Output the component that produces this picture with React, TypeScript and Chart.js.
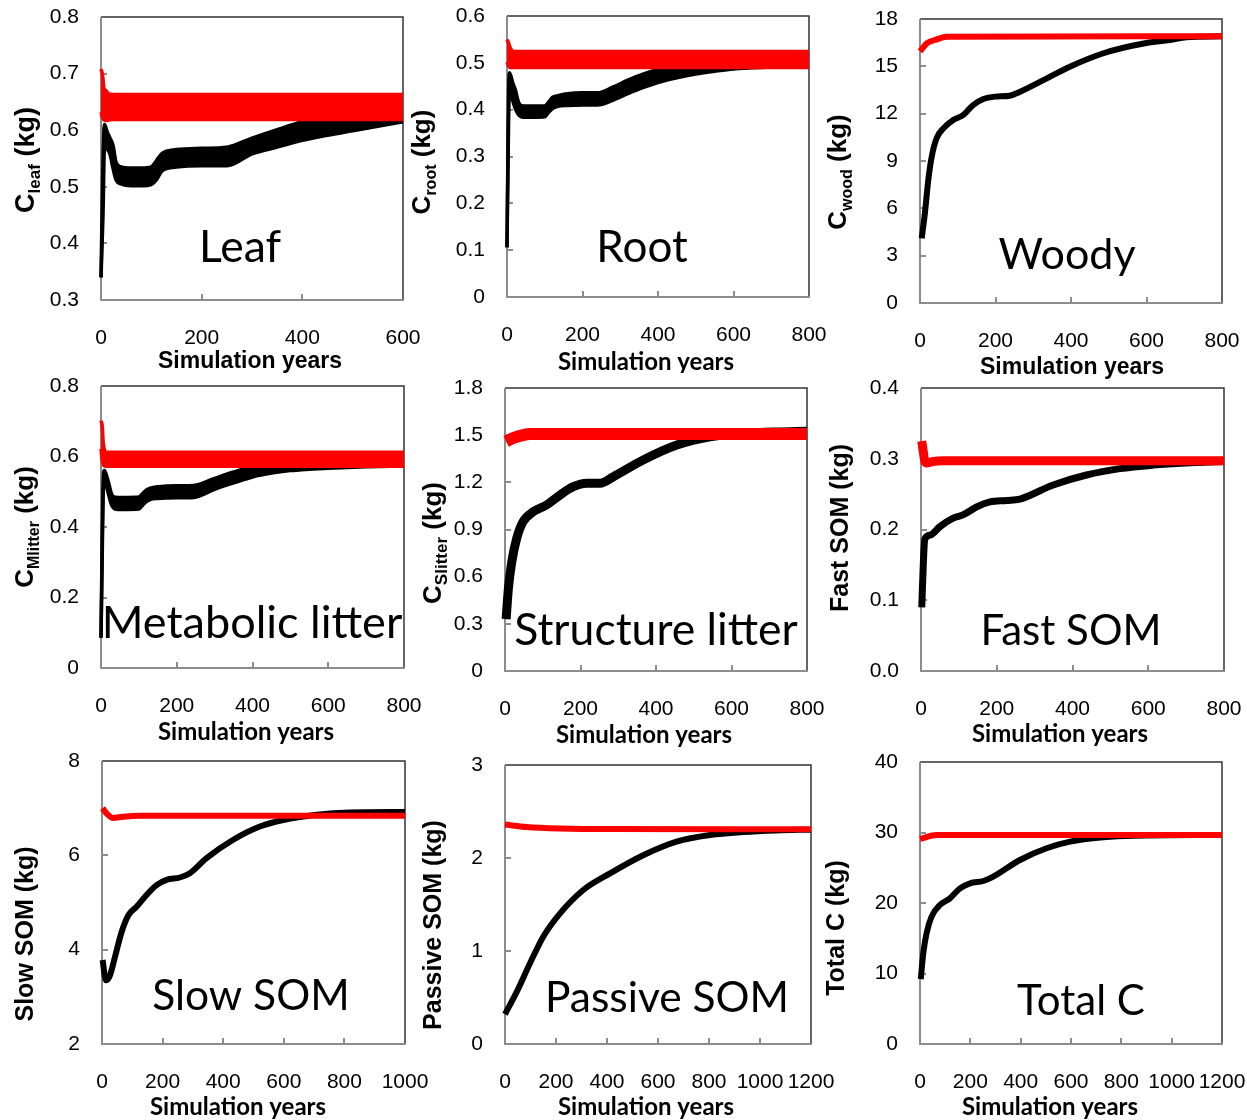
import React, { useEffect, useRef } from "react";
import { Chart, registerables } from "chart.js";
Chart.register(...registerables);

// ---------------- data ----------------
// Leaf
const leafBlackYears = [0, 4, 7, 12, 18, 24, 30, 40, 60, 80, 100, 110, 120, 130, 150, 200, 250, 300, 350, 400, 450, 500, 550, 600];
const leafBlackHigh = [0.34, 0.55, 0.61, 0.598, 0.586, 0.573, 0.543, 0.535, 0.533, 0.533, 0.535, 0.546, 0.558, 0.563, 0.566, 0.568, 0.57, 0.586, 0.601, 0.615, 0.625, 0.631, 0.636, 0.64];
const leafBlackLow = [0.34, 0.45, 0.572, 0.567, 0.557, 0.532, 0.512, 0.505, 0.502, 0.502, 0.504, 0.512, 0.527, 0.532, 0.535, 0.537, 0.537, 0.558, 0.57, 0.582, 0.591, 0.599, 0.607, 0.615];
const leafRedYears = [0, 3, 6, 10, 15, 25, 600];
const leafRedHigh = [0.708, 0.698, 0.674, 0.67, 0.664, 0.663, 0.663];
const leafRedLow = [0.632, 0.622, 0.618, 0.617, 0.618, 0.619, 0.619];

// Root
const rootBlackYears = [0, 3, 6, 10, 16, 22, 28, 35, 45, 70, 100, 110, 120, 135, 160, 200, 240, 280, 320, 360, 400, 450, 500, 550, 600, 700, 800];
const rootBlackHigh = [0.106, 0.36, 0.479, 0.473, 0.455, 0.443, 0.423, 0.41, 0.408, 0.408, 0.408, 0.416, 0.426, 0.43, 0.434, 0.436, 0.436, 0.448, 0.463, 0.476, 0.486, 0.495, 0.502, 0.508, 0.513, 0.518, 0.521];
const rootBlackLow = [0.106, 0.3, 0.44, 0.432, 0.417, 0.402, 0.392, 0.386, 0.384, 0.384, 0.385, 0.394, 0.402, 0.407, 0.409, 0.41, 0.41, 0.42, 0.434, 0.447, 0.458, 0.468, 0.476, 0.482, 0.487, 0.491, 0.494];
const rootRedYears = [0, 4, 8, 14, 20, 800];
const rootRedHigh = [0.55, 0.543, 0.533, 0.526, 0.524, 0.524];
const rootRedLow = [0.502, 0.494, 0.49, 0.49, 0.49, 0.49];

// Woody
const woodBlackYears = [4.5, 13, 22, 31, 44, 62, 88, 115, 141, 168, 199, 238, 265, 336, 397, 486, 596, 662, 706, 800];
const woodBlack = [4.1, 5.7, 7.8, 9.27, 10.44, 11.07, 11.6, 11.92, 12.55, 12.93, 13.08, 13.14, 13.39, 14.24, 14.98, 15.83, 16.46, 16.67, 16.85, 16.9];
const woodRedYears = [0, 18, 40, 71, 800];
const woodRed = [15.95, 16.46, 16.67, 16.88, 16.9];

// Metabolic litter
const metBlackYears = [0, 3, 6, 9, 14, 20, 28, 35, 45, 70, 100, 110, 120, 130, 150, 200, 245, 300, 350, 400, 450, 500, 550, 600, 700, 800];
const metBlackHigh = [0.086, 0.35, 0.538, 0.56, 0.548, 0.526, 0.493, 0.485, 0.484, 0.484, 0.485, 0.495, 0.505, 0.51, 0.514, 0.517, 0.518, 0.538, 0.556, 0.572, 0.583, 0.591, 0.597, 0.6, 0.603, 0.605];
const metBlackLow = [0.086, 0.3, 0.5, 0.527, 0.517, 0.492, 0.462, 0.452, 0.45, 0.45, 0.451, 0.462, 0.472, 0.478, 0.481, 0.483, 0.484, 0.507, 0.525, 0.542, 0.553, 0.56, 0.564, 0.567, 0.571, 0.573];
const metRedYears = [0, 3, 6, 10, 15, 800];
const metRedHigh = [0.702, 0.688, 0.638, 0.616, 0.612, 0.612];
const metRedLow = [0.622, 0.592, 0.577, 0.572, 0.572, 0.572];

// Structure litter
const strBlackYears = [3, 9, 18, 31, 48, 75, 110, 146, 181, 216, 252, 287, 366, 455, 543, 631, 720, 800];
const strBlack = [0.33, 0.526, 0.695, 0.844, 0.95, 1.013, 1.056, 1.12, 1.172, 1.194, 1.194, 1.236, 1.342, 1.437, 1.49, 1.51, 1.52, 1.525];
const strRedYears = [3, 22, 48, 66, 100, 800];
const strRed = [1.46, 1.482, 1.5, 1.507, 1.508, 1.508];

// Fast SOM
const fastBlackYears = [2, 6, 10, 24, 50, 85, 112, 147, 182, 226, 261, 349, 437, 525, 613, 700, 800];
const fastBlack = [0.09, 0.15, 0.186, 0.192, 0.204, 0.216, 0.221, 0.232, 0.239, 0.241, 0.243, 0.263, 0.277, 0.286, 0.291, 0.294, 0.296];
const fastRedYears = [2, 6, 10, 16, 30, 60, 800];
const fastRed = [0.325, 0.31, 0.297, 0.294, 0.296, 0.297, 0.297];

// Slow SOM
const slowBlackYears = [2, 13, 26, 43, 65, 87, 114, 147, 180, 213, 257, 290, 345, 433, 521, 598, 708, 818, 1000];
const slowBlack = [3.78, 3.35, 3.45, 3.85, 4.38, 4.73, 4.91, 5.16, 5.37, 5.48, 5.53, 5.62, 5.94, 6.33, 6.61, 6.75, 6.86, 6.91, 6.92];
const slowRedYears = [2, 15, 37, 70, 125, 1000];
const slowRed = [7.0, 6.89, 6.79, 6.82, 6.84, 6.84];

// Passive SOM
const passBlackYears = [0, 46, 98, 150, 216, 307, 412, 542, 673, 804, 935, 1065, 1200];
const passBlack = [0.32, 0.56, 0.868, 1.154, 1.405, 1.656, 1.835, 2.03, 2.176, 2.247, 2.28, 2.297, 2.305];
const passRedYears = [0, 85, 216, 412, 1200];
const passRed = [2.36, 2.333, 2.317, 2.311, 2.31];

// Total C
const totBlackYears = [3, 13, 26, 46, 79, 119, 159, 199, 252, 291, 397, 503, 596, 728, 850, 1200];
const totBlack = [9.2, 12.86, 15.7, 18.06, 19.72, 20.66, 22.08, 22.79, 23.12, 23.73, 26.1, 27.76, 28.7, 29.32, 29.55, 29.65];
const totRedYears = [0, 66, 1200];
const totRed = [29.1, 29.65, 29.65];

// tick labels
const xTicks600 = ["0", "200", "400", "600"];
const xTicks800 = ["0", "200", "400", "600", "800"];
const xTicks1000 = ["0", "200", "400", "600", "800", "1000"];
const xTicks1200 = ["0", "200", "400", "600", "800", "1000", "1200"];
const leafYTicks = ["0.3", "0.4", "0.5", "0.6", "0.7", "0.8"];
const rootYTicks = ["0", "0.1", "0.2", "0.3", "0.4", "0.5", "0.6"];
const woodYTicks = ["0", "3", "6", "9", "12", "15", "18"];
const metYTicks = ["0", "0.2", "0.4", "0.6", "0.8"];
const strYTicks = ["0", "0.3", "0.6", "0.9", "1.2", "1.5", "1.8"];
const fastYTicks = ["0.0", "0.1", "0.2", "0.3", "0.4"];
const slowYTicks = ["2", "4", "6", "8"];
const passYTicks = ["0", "1", "2", "3"];
const totYTicks = ["0", "10", "20", "30", "40"];

// ---------------- styling / layout ----------------
const RED = "#ff0000";
const BLACK = "#000000";
const SANS = "'Liberation Sans', Arial, sans-serif";
const CAL = "Lato, 'Open Sans', sans-serif";
const AXIS_W = 100;
const AXIS_H = 76;
const PAD_T = 12;
const PAD_R = 24;
const BAND_EDGE = 3.5;

type Band = { kind: "band"; color: string; x: number[]; hi: number[]; lo: number[] };
type Line = { kind: "line"; color: string; x: number[]; y: number[]; width: number };
type Panel = {
  box: [number, number, number, number];
  xTicks: string[];
  yTicks: string[];
  series: (Band | Line)[]; // first = on top
  yTitle: { main: string; sub: string; rest: string; size: number; subSize: number; x: number; y: number };
  xTitle: { family: string; size: number; x: number; y: number };
  label: { text: string; x: number; y: number; size: number };
};

const band = (color: string, x: number[], hi: number[], lo: number[]): Band => ({ kind: "band", color, x, hi, lo });
const line = (color: string, x: number[], y: number[], width: number): Line => ({ kind: "line", color, x, y, width });

const panels: Panel[] = [
  {
    box: [101, 17, 403, 300], xTicks: xTicks600, yTicks: leafYTicks,
    series: [band(RED, leafRedYears, leafRedHigh, leafRedLow), band(BLACK, leafBlackYears, leafBlackHigh, leafBlackLow)],
    yTitle: { main: "C", sub: "leaf", rest: " (kg)", size: 27, subSize: 17, x: 24, y: 160 },
    xTitle: { family: SANS, size: 23, x: 250, y: 362 },
    label: { text: "Leaf", x: 240, y: 248, size: 44.5 },
  },
  {
    box: [507, 16, 809, 297], xTicks: xTicks800, yTicks: rootYTicks,
    series: [band(RED, rootRedYears, rootRedHigh, rootRedLow), band(BLACK, rootBlackYears, rootBlackHigh, rootBlackLow)],
    yTitle: { main: "C", sub: "root", rest: " (kg)", size: 26, subSize: 16, x: 421, y: 162 },
    xTitle: { family: CAL, size: 24, x: 646, y: 362 },
    label: { text: "Root", x: 642, y: 248, size: 44 },
  },
  {
    box: [920, 19, 1222, 303], xTicks: xTicks800, yTicks: woodYTicks,
    series: [line(RED, woodRedYears, woodRed, 6), line(BLACK, woodBlackYears, woodBlack, 6)],
    yTitle: { main: "C", sub: "wood", rest: " (kg)", size: 26, subSize: 16, x: 837, y: 172 },
    xTitle: { family: SANS, size: 23, x: 1072, y: 368 },
    label: { text: "Woody", x: 1067, y: 255, size: 43 },
  },
  {
    box: [101, 386, 404, 668], xTicks: xTicks800, yTicks: metYTicks,
    series: [band(RED, metRedYears, metRedHigh, metRedLow), band(BLACK, metBlackYears, metBlackHigh, metBlackLow)],
    yTitle: { main: "C", sub: "Mlitter", rest: " (kg)", size: 26, subSize: 16, x: 24, y: 527 },
    xTitle: { family: CAL, size: 24, x: 246, y: 732 },
    label: { text: "Metabolic litter", x: 252, y: 623, size: 45 },
  },
  {
    box: [505, 388, 807, 671], xTicks: xTicks800, yTicks: strYTicks,
    series: [line(RED, strRedYears, strRed, 12), line(BLACK, strBlackYears, strBlack, 9)],
    yTitle: { main: "C", sub: "Slitter", rest: " (kg)", size: 26, subSize: 17, x: 432, y: 543 },
    xTitle: { family: CAL, size: 24, x: 644, y: 735 },
    label: { text: "Structure litter", x: 656, y: 631, size: 44.5 },
  },
  {
    box: [921, 388, 1224, 671], xTicks: xTicks800, yTicks: fastYTicks,
    series: [line(RED, fastRedYears, fastRed, 9), line(BLACK, fastBlackYears, fastBlack, 7)],
    yTitle: { main: "Fast SOM (kg)", sub: "", rest: "", size: 25, subSize: 15, x: 839, y: 528 },
    xTitle: { family: CAL, size: 24, x: 1060, y: 734 },
    label: { text: "Fast SOM", x: 1071, y: 631, size: 42 },
  },
  {
    box: [102, 761, 405, 1044], xTicks: xTicks1000, yTicks: slowYTicks,
    series: [line(RED, slowRedYears, slowRed, 6), line(BLACK, slowBlackYears, slowBlack, 6)],
    yTitle: { main: "Slow SOM (kg)", sub: "", rest: "", size: 25, subSize: 15, x: 24, y: 934 },
    xTitle: { family: CAL, size: 24, x: 238, y: 1107 },
    label: { text: "Slow SOM", x: 251, y: 996, size: 42.5 },
  },
  {
    box: [505, 765, 811, 1044], xTicks: xTicks1200, yTicks: passYTicks,
    series: [line(RED, passRedYears, passRed, 6), line(BLACK, passBlackYears, passBlack, 6)],
    yTitle: { main: "Passive SOM (kg)", sub: "", rest: "", size: 25, subSize: 15, x: 432, y: 925 },
    xTitle: { family: CAL, size: 24, x: 646, y: 1107 },
    label: { text: "Passive SOM", x: 667, y: 998, size: 42.5 },
  },
  {
    box: [920, 762, 1222, 1044], xTicks: xTicks1200, yTicks: totYTicks,
    series: [line(RED, totRedYears, totRed, 6), line(BLACK, totBlackYears, totBlack, 6)],
    yTitle: { main: "Total C (kg)", sub: "", rest: "", size: 25, subSize: 15, x: 835, y: 928 },
    xTitle: { family: CAL, size: 24, x: 1050, y: 1107 },
    label: { text: "Total C", x: 1081, y: 1001, size: 42 },
  },
];

const pts = (x: number[], y: number[]) => x.map((v, i) => ({ x: v, y: y[i] }));

function buildDatasets(p: Panel) {
  const ds: any[] = [];
  p.series.forEach((s) => {
    const common = {
      pointRadius: 0,
      cubicInterpolationMode: "monotone",
      borderJoinStyle: "round",
      borderCapStyle: "butt",
      clip: { left: 6, top: 6, right: 2, bottom: 6 },
    };
    if (s.kind === "band") {
      ds.push({ ...common, data: pts(s.x, s.hi), borderColor: s.color, backgroundColor: s.color, borderWidth: BAND_EDGE, fill: "+1" });
      ds.push({ ...common, data: pts(s.x, s.lo), borderColor: s.color, backgroundColor: s.color, borderWidth: BAND_EDGE, fill: false });
    } else {
      ds.push({ ...common, data: pts(s.x, s.y), borderColor: s.color, borderWidth: s.width, fill: false });
    }
  });
  return ds;
}

function PanelChart({ p }: { p: Panel }) {
  const ref = useRef<HTMLCanvasElement | null>(null);
  const [l, t, r, b] = p.box;
  const left = l - AXIS_W;
  const top = t - PAD_T;
  const width = r - l + AXIS_W + PAD_R;
  const height = b - t + PAD_T + AXIS_H;

  useEffect(() => {
    if (!ref.current) return;
    const xVals = p.xTicks.map(Number);
    const yVals = p.yTicks.map(Number);
    const decor = {
      id: "decor",
      beforeDatasetsDraw(chart: any) {
        const ctx = chart.ctx as CanvasRenderingContext2D;
        const a = chart.chartArea;
        const xs = chart.scales.x;
        const ys = chart.scales.y;
        ctx.save();
        // frame: top/right dark, left/bottom grey
        ctx.lineWidth = 1.5;
        ctx.strokeStyle = "#333333";
        ctx.beginPath();
        ctx.moveTo(a.left, a.top);
        ctx.lineTo(a.right, a.top);
        ctx.lineTo(a.right, a.bottom);
        ctx.stroke();
        ctx.lineWidth = 2;
        ctx.strokeStyle = "#8c8c8c";
        ctx.beginPath();
        ctx.moveTo(a.left, a.top);
        ctx.lineTo(a.left, a.bottom);
        ctx.lineTo(a.right + 1, a.bottom);
        // inward tick marks
        xVals.slice(1, -1).forEach((v) => {
          const px = Math.round(xs.getPixelForValue(v));
          ctx.moveTo(px, a.bottom);
          ctx.lineTo(px, a.bottom - 6);
        });
        yVals.slice(1, -1).forEach((v) => {
          const py = Math.round(ys.getPixelForValue(v));
          ctx.moveTo(a.left, py);
          ctx.lineTo(a.left + 6, py);
        });
        ctx.stroke();
        ctx.restore();
      },
      afterDraw(chart: any) {
        const ctx = chart.ctx as CanvasRenderingContext2D;
        ctx.save();
        ctx.fillStyle = "#000";
        // inner label
        ctx.font = `${p.label.size}px ${CAL}`;
        ctx.textAlign = "center";
        ctx.textBaseline = "middle";
        ctx.fillText(p.label.text, p.label.x - left, p.label.y - top);

        // x title
        ctx.font = `bold ${p.xTitle.size}px ${p.xTitle.family}`;
        ctx.fillText("Simulation years", p.xTitle.x - left, p.xTitle.y - top);

        // y title (rotated, optional subscript)
        const yt = p.yTitle;
        ctx.translate(yt.x - left, yt.y - top);
        ctx.rotate(-Math.PI / 2);
        ctx.textAlign = "left";
        ctx.textBaseline = "alphabetic";
        const mainFont = `bold ${yt.size}px ${SANS}`;
        const subFont = `bold ${yt.subSize}px ${SANS}`;
        ctx.font = mainFont;
        const w1 = ctx.measureText(yt.main).width;
        const w3 = yt.rest ? ctx.measureText(yt.rest).width : 0;
        ctx.font = subFont;
        const w2 = yt.sub ? ctx.measureText(yt.sub).width : 0;
        let x0 = -(w1 + w2 + w3) / 2;
        const base = yt.size * 0.36;
        ctx.font = mainFont;
        ctx.fillText(yt.main, x0, base);
        x0 += w1;
        if (yt.sub) {
          ctx.font = subFont;
          ctx.fillText(yt.sub, x0, base + yt.size * 0.22);
          x0 += w2;
        }
        if (yt.rest) {
          ctx.font = mainFont;
          ctx.fillText(yt.rest, x0, base);
        }
        ctx.restore();
      },
    };

    const chart = new Chart(ref.current, {
      type: "line",
      data: { datasets: buildDatasets(p) },
      plugins: [decor],
      options: {
        animation: false,
        responsive: false,
        devicePixelRatio: 1,
        events: [],
        layout: { padding: { top: PAD_T, right: PAD_R, left: 0, bottom: 0 } },
        plugins: { legend: { display: false }, tooltip: { enabled: false }, title: { display: false } },
        scales: {
          x: {
            type: "linear",
            min: xVals[0],
            max: xVals[xVals.length - 1],
            grid: { display: false, drawTicks: false },
            border: { display: false },
            ticks: {
              font: { family: SANS, size: 21 },
              color: "#000",
              padding: 26,
              maxRotation: 0,
              minRotation: 0,
              autoSkip: false,
              callback: (_v: any, i: number) => p.xTicks[i],
            },
            afterBuildTicks: (s: any) => {
              s.ticks = xVals.map((v) => ({ value: v }));
            },
            afterFit: (s: any) => {
              s.height = AXIS_H;
              s.paddingLeft = 0;
              s.paddingRight = 0;
            },
          },
          y: {
            type: "linear",
            min: yVals[0],
            max: yVals[yVals.length - 1],
            grid: { display: false, drawTicks: false },
            border: { display: false },
            ticks: {
              font: { family: SANS, size: 21 },
              color: "#000",
              padding: 22,
              autoSkip: false,
              callback: (_v: any, i: number) => p.yTicks[i],
            },
            afterBuildTicks: (s: any) => {
              s.ticks = yVals.map((v) => ({ value: v }));
            },
            afterFit: (s: any) => {
              s.width = AXIS_W;
              s.paddingTop = 0;
              s.paddingBottom = 0;
            },
          },
        },
      } as any,
    });
    return () => chart.destroy();
  }, [p]);

  return (
    <canvas
      ref={ref}
      width={width}
      height={height}
      style={{ position: "absolute", left, top, width, height }}
    />
  );
}

export default function App() {
  return (
    <div
      style={{
        position: "absolute",
        left: 0,
        top: 0,
        width: 1247,
        height: 1120,
        overflow: "hidden",
        background: "#fff",
      }}
    >
      {panels.map((p, i) => (
        <PanelChart key={i} p={p} />
      ))}
    </div>
  );
}
